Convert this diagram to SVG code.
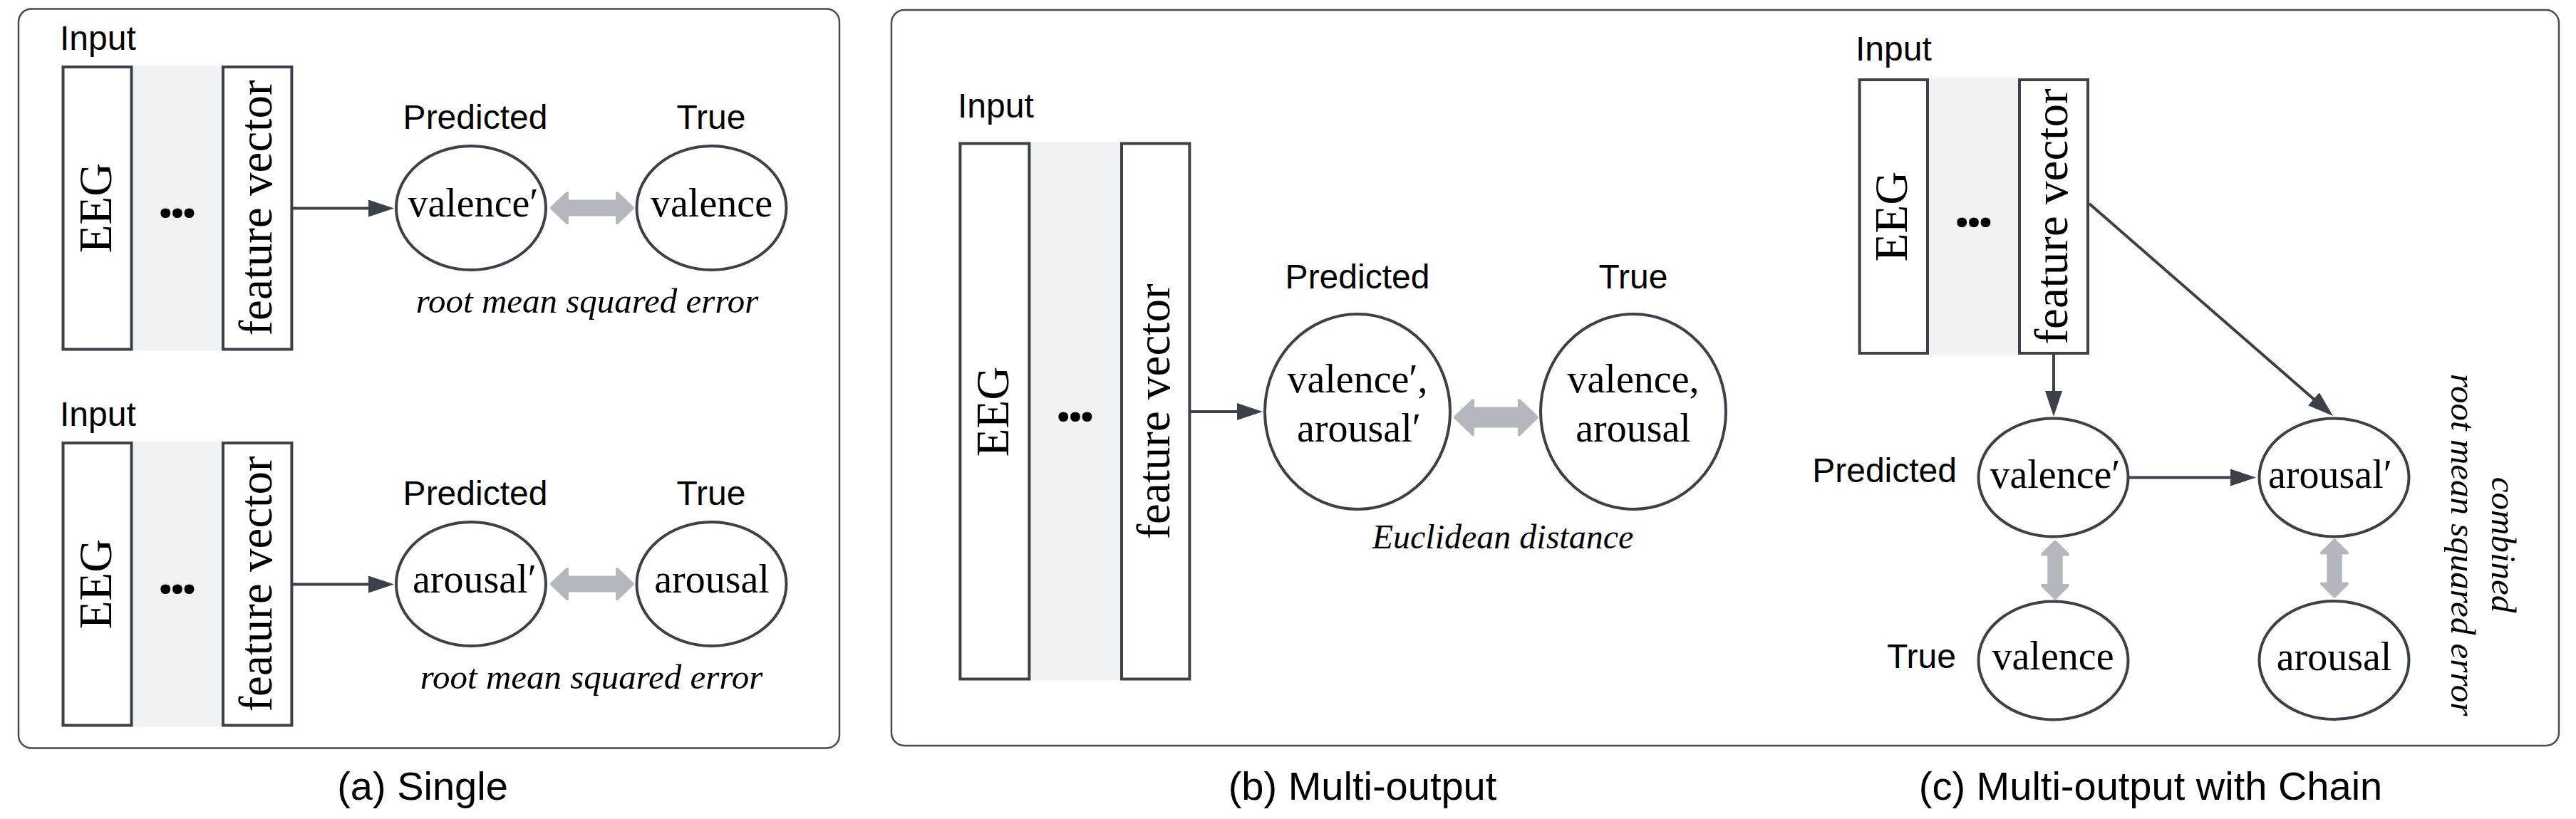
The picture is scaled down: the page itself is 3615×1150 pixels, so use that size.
<svg xmlns="http://www.w3.org/2000/svg" width="3615" height="1150" viewBox="0 0 3615 1150">
<style>
.bg{fill:#ffffff}
.box{fill:none;stroke:#474c54;stroke-width:2.5}
.rc{fill:#ffffff;stroke:#3c4149;stroke-width:4}
.band{fill:#f1f2f4}
.ell{fill:#ffffff;stroke:#3c4149;stroke-width:4}
.edge{fill:none;stroke:#3c4149;stroke-width:4;marker-end:url(#ah)}
.gray{fill:#b4b8be;stroke:#b4b8be;stroke-width:4;stroke-linejoin:round}
.sans{font-family:"Liberation Sans",Arial,sans-serif;font-size:48px;fill:#000}
.cap{font-family:"Liberation Sans",Arial,sans-serif;font-size:56px;fill:#000;text-anchor:middle}
.serif{font-family:"Liberation Serif","Times New Roman",serif;fill:#000}
.node{font-size:56px;text-anchor:middle}
.vert{font-size:65px;text-anchor:middle}
.ital{font-style:italic;font-size:49px;text-anchor:middle}
.mid{text-anchor:middle}
.end{text-anchor:end}
.dots{font-family:"Noto Sans","Open Sans",sans-serif;font-weight:bold;font-size:80px;letter-spacing:-5.8px;text-anchor:middle;fill:#000}
</style>
<defs>
<marker id="ah" markerUnits="userSpaceOnUse" viewBox="0 0 36 24" markerWidth="36" markerHeight="24" refX="28" refY="12" orient="auto">
<path d="M0,0 L36,12 L0,24 Z" fill="#3c4149"/>
</marker>
</defs>
<rect class="bg" x="0" y="0" width="3615" height="1150"/>

<!-- panel frames -->
<g id="frames">
<rect class="box" x="26" y="12.5" width="1152" height="1038" rx="18"/>
<rect class="box" x="1251" y="14" width="2340" height="1033" rx="18"/>
</g>

<!-- panel (a) top row -->
<g id="a1-input">
<text class="sans" x="84" y="70">Input</text>
<rect class="band" x="186" y="92" width="126" height="400.5"/>
<rect class="rc" x="88.5" y="94" width="96" height="396.5"/>
<rect class="rc" x="313" y="94" width="96.4" height="396.5"/>
<text class="serif vert" transform="translate(156,292) rotate(-90)">EEG</text>
<text class="dots" x="246" y="305">...</text>
<text class="serif vert" transform="translate(381,292) rotate(-90)">feature vector</text>
</g>
<g id="a1-pred">
<text class="sans mid" x="667" y="181">Predicted</text>
<ellipse class="ell" cx="661" cy="292" rx="105" ry="87"/>
<text class="serif node" x="664" y="304">valence′</text>
</g>
<g id="a1-true">
<text class="sans mid" x="998" y="181">True</text>
<ellipse class="ell" cx="998.5" cy="292" rx="105" ry="87"/>
<text class="serif node" x="998.5" y="304">valence</text>
</g>
<text class="serif ital" x="824" y="439">root mean squared error</text>

<!-- panel (a) bottom row -->
<g id="a2-input">
<text class="sans" x="84" y="598">Input</text>
<rect class="band" x="186" y="620" width="126" height="400.5"/>
<rect class="rc" x="88.5" y="622" width="96" height="396.5"/>
<rect class="rc" x="313" y="622" width="96.4" height="396.5"/>
<text class="serif vert" transform="translate(156,820) rotate(-90)">EEG</text>
<text class="dots" x="246" y="833">...</text>
<text class="serif vert" transform="translate(381,820) rotate(-90)">feature vector</text>
</g>
<g id="a2-pred">
<text class="sans mid" x="667" y="709">Predicted</text>
<ellipse class="ell" cx="661" cy="820" rx="105" ry="87"/>
<text class="serif node" x="666" y="832">arousal′</text>
</g>
<g id="a2-true">
<text class="sans mid" x="998" y="709">True</text>
<ellipse class="ell" cx="998.5" cy="820" rx="105" ry="87"/>
<text class="serif node" x="999" y="832">arousal</text>
</g>
<text class="serif ital" x="830" y="967">root mean squared error</text>

<!-- panel (b) -->
<g id="b-input">
<text class="sans" x="1344" y="165">Input</text>
<rect class="band" x="1446" y="199.5" width="126" height="756"/>
<rect class="rc" x="1347.4" y="201.5" width="97" height="752"/>
<rect class="rc" x="1574" y="201.5" width="95.4" height="752"/>
<text class="serif vert" transform="translate(1415,578) rotate(-90)">EEG</text>
<text class="dots" x="1506" y="591">...</text>
<text class="serif vert" transform="translate(1641,578) rotate(-90)">feature vector</text>
</g>
<g id="b-pred">
<text class="sans mid" x="1905" y="405">Predicted</text>
<ellipse class="ell" cx="1905" cy="578" rx="130" ry="137"/>
<text class="serif node" x="1905" y="551">valence′,</text>
<text class="serif node" x="1907" y="620">arousal′</text>
</g>
<g id="b-true">
<text class="sans mid" x="2292" y="405">True</text>
<ellipse class="ell" cx="2292" cy="578" rx="130" ry="137"/>
<text class="serif node" x="2292" y="551">valence,</text>
<text class="serif node" x="2292" y="620">arousal</text>
</g>
<text class="serif ital" x="2109" y="770" style="font-size:48px">Euclidean distance</text>

<!-- panel (c) -->
<g id="c-input">
<text class="sans" x="2604" y="85">Input</text>
<rect class="band" x="2707" y="110" width="126" height="388"/>
<rect class="rc" x="2609.6" y="112" width="95.4" height="384"/>
<rect class="rc" x="2834" y="112" width="96" height="384"/>
<text class="serif vert" transform="translate(2676,304) rotate(-90)">EEG</text>
<text class="dots" x="2767" y="318">...</text>
<text class="serif vert" transform="translate(2901,304) rotate(-90)">feature vector</text>
</g>
<g id="c-valence-pred">
<text class="sans end" x="2746" y="677">Predicted</text>
<ellipse class="ell" cx="2881.5" cy="670.5" rx="105" ry="83"/>
<text class="serif node" x="2884" y="684.5">valence′</text>
</g>
<g id="c-arousal-pred">
<ellipse class="ell" cx="3275.5" cy="670.5" rx="105" ry="83"/>
<text class="serif node" x="3270" y="684.5">arousal′</text>
</g>
<g id="c-valence-true">
<text class="sans end" x="2745" y="938">True</text>
<ellipse class="ell" cx="2881.5" cy="927.5" rx="105" ry="83"/>
<text class="serif node" x="2881" y="940">valence</text>
</g>
<g id="c-arousal-true">
<ellipse class="ell" cx="3275.5" cy="927" rx="105" ry="83"/>
<text class="serif node" x="3275.5" y="941">arousal</text>
</g>
<text class="serif ital" transform="translate(3497,765) rotate(90)">combined</text>
<text class="serif ital" transform="translate(3440,765) rotate(90)">root mean squared error</text>

<!-- connectors -->
<g id="connectors">
<line class="edge" x1="411" y1="292.5" x2="545" y2="292.5"/>
<line class="edge" x1="411" y1="820.5" x2="545" y2="820.5"/>
<line class="edge" x1="1671" y1="578" x2="1764" y2="578"/>
<line class="edge" x1="2882" y1="498" x2="2882" y2="577"/>
<line class="edge" x1="2932" y1="286" x2="3268" y2="578.7"/>
<line class="edge" x1="2988" y1="670.5" x2="3158" y2="670.5"/>
<polygon class="gray" points="774,292 796,271 796,282.5 866,282.5 866,271 888,292 866,313 866,301.5 796,301.5 796,313"/>
<polygon class="gray" points="774,820 796,799 796,810.5 866,810.5 866,799 888,820 866,841 866,829.5 796,829.5 796,841"/>
<polygon class="gray" points="2042,586 2067,562 2067,573.5 2132,573.5 2132,562 2157,586 2132,610 2132,598.5 2067,598.5 2067,610"/>
<polygon class="gray" points="2884,760.5 2902,778.5 2892.7,778.5 2892.7,822 2902,822 2884,840 2866,822 2875.3,822 2875.3,778.5 2866,778.5"/>
<polygon class="gray" points="3276,758.5 3294,776.5 3284.7,776.5 3284.7,819.5 3294,819.5 3276,837.5 3258,819.5 3267.3,819.5 3267.3,776.5 3258,776.5"/>
</g>

<!-- captions -->
<g id="captions">
<text class="cap" x="593" y="1123">(a) Single</text>
<text class="cap" x="1912" y="1123">(b) Multi-output</text>
<text class="cap" x="3018" y="1123">(c) Multi-output with Chain</text>
</g>
</svg>
